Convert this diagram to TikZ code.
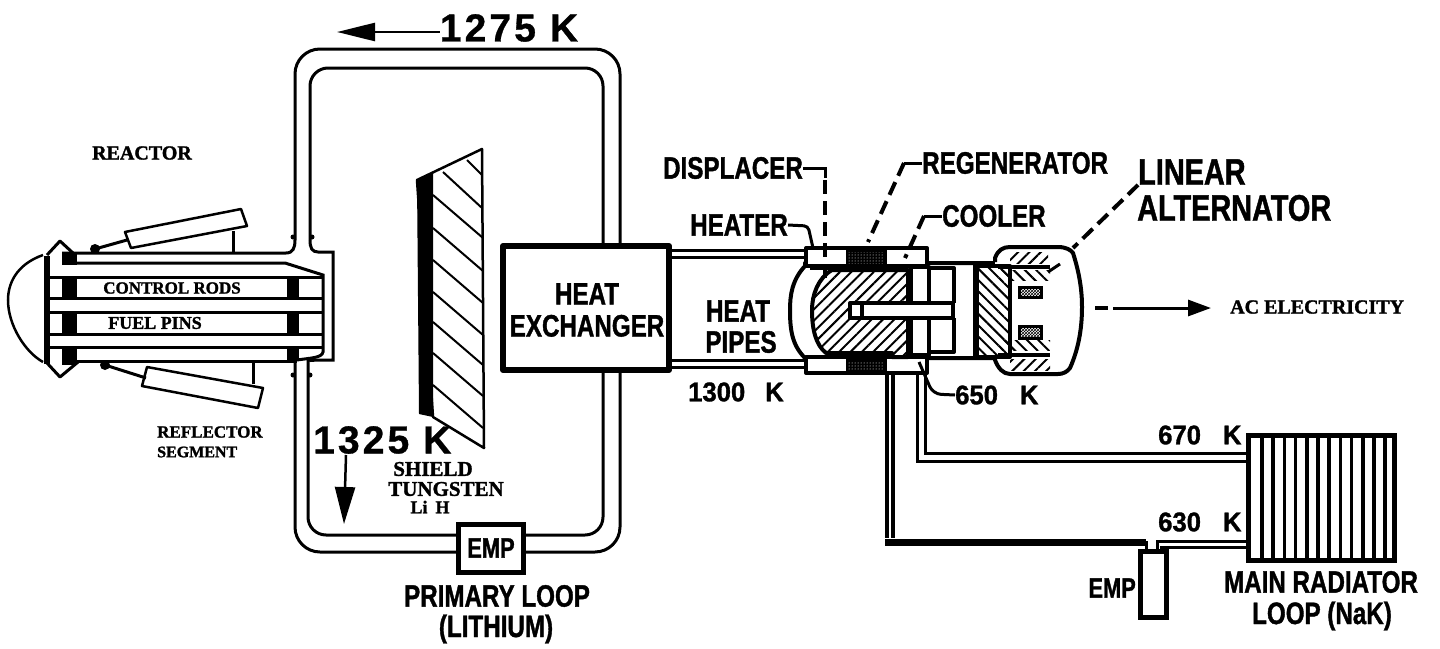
\documentclass[tikz,border=0pt]{standalone}
\usepackage{fontspec}
\setmainfont{Liberation Sans}
\newfontfamily\labelfont[FakeStretch=0.78,FakeBold=1.2]{Liberation Sans}
\newfontfamily\numfont[FakeStretch=0.95,FakeBold=1.2]{Liberation Sans}
\newfontfamily\widefont[LetterSpace=8,FakeBold=0.8]{Liberation Sans}
\newfontfamily\slabfont[FakeBold=1.5]{Liberation Serif}
\usetikzlibrary{arrows.meta,patterns,patterns.meta}
\tikzset{
	lbl/.style={inner sep=0pt, font=\labelfont\bfseries\fontsize{#1}{#1}\selectfont},
	lbl/.default=31,
	numlbl/.style={inner sep=0pt, font=\numfont\bfseries\fontsize{27}{27}\selectfont},
	bigtemp/.style={inner sep=0pt, font=\widefont\bfseries\fontsize{39}{39}\selectfont},
	slab/.style={inner sep=0pt, font=\slabfont\bfseries\fontsize{#1}{#1}\selectfont},
	slab/.default=20,
	pipe/.style={line width=3pt},
	wall/.style={line width=4pt, line join=round},
	leader/.style={line width=4pt, dash pattern=on 14pt off 7pt},
	hatchne/.style={pattern={Lines[angle=45,distance=8pt,line width=2pt]}},
	hatchnw/.style={pattern={Lines[angle=-45,distance=8pt,line width=2pt]}}
}

\begin{document}
\begin{tikzpicture}[x=1pt, y=-1pt]
		%%%%% START %%%%%
		\useasboundingbox (0, 0) rectangle (1440, 648);
		
		% primary loop
		\draw[pipe, rounded corners=25pt] (295, 240) -- (295, 49) -- (620, 49) -- (620, 552) -- (295, 552) -- (295, 358);
		\draw[pipe, rounded corners=18pt] (310, 240) -- (310, 68) -- (603, 68) -- (603, 535) -- (308, 535) -- (308, 358);
		\foreach \bx/\by in {293/237, 312/237, 293/375, 310/375} {
			\fill (\bx, \by) circle (2.5pt);
		}
		
		% reactor
		\draw[line width=2.5pt] (43, 255) .. controls (15, 265) and (8, 285) .. (8, 300) .. controls (8, 325) and (25, 352) .. (43, 362);
		\draw[line width=6pt] (47, 256) -- (47, 364);
		\draw[pipe, line join=round] (47, 255) -- (60, 241) -- (73, 253);
		\draw[pipe, line join=round] (47, 363) -- (60, 377) -- (78, 362);
		\draw[pipe] (62, 253) -- (286, 253) .. controls (293, 253) and (295, 248) .. (295, 240);
		\draw[pipe] (310, 240) .. controls (310, 248) and (312, 252) .. (318, 252) -- (333, 252) -- (333, 360) -- (318, 360) .. controls (312, 360) and (308, 362) .. (308, 358);
		\draw[pipe] (62, 263) -- (285, 263) -- (323, 275) -- (323, 352) .. controls (322, 358) and (310, 358) .. (297, 360);
		\draw[pipe] (50, 277) -- (323, 277);
		\draw[pipe] (50, 298) -- (323, 298);
		\draw[pipe] (50, 312) -- (323, 312);
		\draw[pipe] (50, 334) -- (323, 334);
		\draw[pipe] (50, 347) -- (323, 347);
		\draw[pipe] (62, 361) -- (297, 361);
		\foreach \ya/\yb in {277/298, 312/334} {
			\fill (62, \ya) rectangle (77, \yb);
			\fill (287, \ya) rectangle (299, \yb);
		}
		\fill (62, 253) rectangle (77, 265);
		\fill (62, 347) rectangle (77, 365);
		\fill (287, 347) rectangle (299, 361);
		
		% reflector segments
		\draw[line width=2.5pt, fill=white, line join=round] (125, 232) -- (241, 209) -- (247, 226) -- (131, 248) -- cycle;
		\draw[pipe] (95, 249) -- (127, 240);
		\fill (95, 249) circle (5pt);
		\draw[pipe] (233, 231) -- (233, 252);
		\draw[line width=2.5pt, fill=white, line join=round] (147, 367) -- (263, 388) -- (258, 408) -- (142, 386) -- cycle;
		\draw[pipe] (105, 365) -- (146, 378);
		\fill (105, 365) circle (5pt);
		\draw[pipe] (253, 361) -- (253, 384);
		
		\node[slab] (reactor) at (142, 153) {REACTOR};
		\node[slab=17] (controlrods) at (172, 288) {CONTROL RODS};
		\node[slab=18] (fuelpins) at (155, 323) {FUEL PINS};
		\node[slab=17, anchor=west] (reflector) at (157, 432) {REFLECTOR};
		\node[slab=16, anchor=west] (segment) at (157, 452) {SEGMENT};
		
		% shield
		\draw[line width=2.5pt, fill=white, line join=round] (417, 180) -- (482, 149) -- (484, 448) -- (433, 417) -- cycle;
		\fill (417, 180) -- (433, 172) -- (433, 417) -- (419, 414) -- cycle;
		\foreach \y in {195, 228, 260, 292, 322, 353, 385} {
			\draw[line width=2pt] (433, \y) -- (483, \y + 43);
		}
		\draw[line width=2pt] (443, 172) -- (482, 208);
		\draw[line width=2pt] (467, 160) -- (482, 175);
		
		% heat exchanger and loop pump
		\node[draw, wall, line width=6pt, fill=white, minimum width=166pt, minimum height=124pt, inner sep=0pt] (exchanger) at (586, 308) {};
		\node[lbl, align=center, font=\labelfont\bfseries\fontsize{31}{32}\selectfont] (exchangertext) at (587, 310) {HEAT\\EXCHANGER};
		\node[draw, line width=5pt, fill=white, minimum width=65pt, minimum height=48pt, inner sep=0pt, lbl=28] (pumpa) at (491, 548) {EMP};
		\node[lbl] (primary) at (497, 596) {PRIMARY LOOP};
		\node[lbl] (lithium) at (496, 629) {(LITHIUM)};
		
		% temperature labels on the loop
		\node[bigtemp] (hot) at (509, 28) {1275 K};
		\coordinate (hotend) at (337, 32);
		\draw[-{Triangle[length=38pt, width=18pt]}, line width=2.5pt] (hot.west |- hotend) -- (hotend);
		\node[bigtemp, anchor=west] (cold) at (313, 440) {1325 K};
		\coordinate (coldstart) at (346, 455);
		\coordinate (coldend) at (344, 524);
		\draw[-{Triangle[length=37pt, width=20pt]}, line width=2.5pt] (coldstart) -- (coldend);
		\node[slab=21] (shieldname) at (433, 469) {SHIELD};
		\node[slab=21] (tungsten) at (446, 489) {TUNGSTEN};
		\node[slab=18] (lih) at (430, 507) {Li\hspace{8pt}H};
		
		% heat pipes
		\draw[pipe] (672, 250) -- (812, 250);
		\draw[pipe] (672, 257) -- (812, 257);
		\draw[pipe] (672, 360) -- (812, 360);
		\draw[pipe] (672, 367) -- (812, 367);
		\node[lbl] (heatword) at (738, 311) {HEAT};
		\node[lbl] (pipesword) at (741, 342) {PIPES};
		\node[numlbl, anchor=west] (hxtemp) at (688, 392) {1300\hspace{20pt}K};
		
		% radiator pipes
		\draw[line width=4pt] (887, 371) -- (887, 538);
		\draw[line width=4pt] (893, 371) -- (893, 538);
		\draw[line width=7pt] (885, 542) -- (1146, 542);
		\draw[pipe] (1146, 541) -- (1146, 552);
		\draw[pipe] (917, 371) -- (917, 461) -- (1248, 461);
		\draw[pipe] (925, 371) -- (925, 453) -- (1248, 453);
		\draw[pipe] (1157, 552) -- (1157, 541) -- (1248, 541);
		\draw[pipe] (1161, 552) -- (1161, 547) -- (1248, 547);
		
		% engine housing
		\draw[wall, fill=white] (805, 266) .. controls (792, 280) and (790, 295) .. (790, 310) .. controls (790, 330) and (792, 345) .. (805, 358) -- (928, 358) -- (997, 358) -- (997, 263) -- (805, 263) -- cycle;
		\draw[wall, fill=white] (806, 248) rectangle (927, 266);
		\draw[wall, fill=white] (806, 357) rectangle (927, 373);
		\foreach \ya/\yb in {249/265, 358/372} {
			\fill (846, \ya) rectangle (887, \yb);
			\fill[pattern=dots, pattern color=white] (848, \ya + 3) rectangle (884, \yb - 2);
		}
		
		% displacer
		\draw[pipe] (810, 268) -- (890, 268);
		\draw[wall, hatchne] (908, 270) -- (832, 270) .. controls (818, 278) and (812, 295) .. (812, 310) .. controls (812, 330) and (816, 345) .. (826, 353) -- (892, 353) -- (892, 357) -- (908, 357) -- cycle;
		\draw[wall, fill=white] (850, 303) rectangle (953, 318);
		\draw[wall] (862, 303) -- (862, 318);
		
		% columns between displacer and piston
		\draw[wall, fill=white] (911, 267) rectangle (929, 303);
		\draw[wall, fill=white] (911, 318) rectangle (929, 355);
		\draw[wall] (929, 268) -- (954, 268) -- (954, 303);
		\draw[wall] (929, 352) -- (954, 352) -- (954, 318);
		\draw[wall] (975, 264) -- (975, 357);
		
		% power piston and alternator
		\draw[wall, fill=white] (995, 262) -- (995, 258) .. controls (998, 250) and (1003, 247) .. (1010, 247) -- (1058, 247) .. controls (1066, 247) and (1071, 250) .. (1073, 253) .. controls (1080, 275) and (1082, 292) .. (1082, 307) .. controls (1082, 330) and (1078, 350) .. (1070, 368) .. controls (1067, 372) and (1063, 374) .. (1058, 374) -- (1010, 374) .. controls (1003, 374) and (998, 368) .. (995, 360) -- (995, 356);
		\draw[wall, hatchnw] (977, 266) rectangle (1010, 357);
		\fill[hatchne] (1010, 252) rectangle (1048, 263);
		\fill[hatchne] (1010, 359) rectangle (1050, 370);
		\fill[hatchnw] (1000, 270) rectangle (1050, 280);
		\fill[hatchnw] (1000, 340) rectangle (1050, 350);
		\draw[wall] (998, 267) -- (1050, 267);
		\draw[wall] (998, 355) -- (1050, 355);
		\draw[pipe] (1048, 272) -- (1060, 264);
		\draw[line width=3pt, pattern=crosshatch] (1019, 287) rectangle (1041, 297);
		\draw[line width=3pt, pattern=crosshatch] (1019, 326) rectangle (1041, 338);
		
		% engine labels
		\node[lbl] (displacer) at (733, 168) {DISPLACER};
		\coordinate (displacerend) at (825, 283);
		\coordinate (displacerknee) at (825, 168);
		\draw[pipe] (displacer.east) -- (displacerknee) -- ++(0, 10);
		\draw[leader] (825, 180) -- (displacerend);
		\node[lbl, anchor=west] (heater) at (690, 225) {HEATER};
		\coordinate (heaterend) at (813, 248);
		\draw[pipe, rounded corners=4pt] (heater.east) -- (808, 226) -- (heaterend);
		\node[lbl, anchor=west] (regenerator) at (922, 163) {REGENERATOR};
		\coordinate (regenend) at (868, 242);
		\coordinate (regenknee) at (904, 163);
		\draw[pipe] (regenerator.west) -- (regenknee);
		\draw[leader] (regenknee) -- (regenend);
		\node[lbl, anchor=west] (cooler) at (942, 216) {COOLER};
		\coordinate (coolerend) at (905, 258);
		\coordinate (coolerknee) at (924, 216);
		\draw[pipe] (cooler.west) -- (coolerknee);
		\draw[leader] (coolerknee) -- (coolerend);
		\node[lbl=37, anchor=west] (linear) at (1138, 172) {LINEAR};
		\node[lbl=37, anchor=west] (alternator) at (1137, 208) {ALTERNATOR};
		\coordinate (linearend) at (1073, 248);
		\draw[leader] (linear.south west) -- (linearend);
		\node[numlbl, anchor=west] (enginetemp) at (955, 395) {650\hspace{22pt}K};
		\coordinate (enginestart) at (919, 362);
		\draw[pipe, rounded corners=8pt] (enginestart) -- (933, 394) -- (enginetemp.west);
		
		% electricity output
		\node[slab, anchor=west] (electricity) at (1230, 307) {AC ELECTRICITY};
		\coordinate (acstart) at (1095, 308);
		\coordinate (acgap) at (1108, 308);
		\coordinate (acline) at (1113, 308);
		\coordinate (acend) at (1211, 308);
		\draw[line width=4pt] (acstart) -- (acgap);
		\draw[-{Triangle[length=23pt, width=16pt]}, line width=3pt] (acline) -- (acend);
		
		% radiator
		\node[draw, line width=5pt, fill=white, minimum width=146pt, minimum height=125pt, inner sep=0pt] (radiator) at (1321, 498) {};
		\foreach \i in {0, ..., 11} {
			\draw[line width=3.5pt] (1262 + 11.2 * \i, 436) -- (1262 + 11.2 * \i, 561);
		}
		\node[numlbl, anchor=west] (tempin) at (1158, 435) {670\hspace{22pt}K};
		\node[numlbl, anchor=west] (tempout) at (1158, 522) {630\hspace{22pt}K};
		\node[lbl] (mainradiator) at (1321, 582) {MAIN RADIATOR};
		\node[lbl] (nak) at (1322, 616) {LOOP (NaK)};
		
		% radiator pump
		\node[draw, line width=5pt, fill=white, minimum width=26pt, minimum height=66pt, inner sep=0pt] (pumpb) at (1153, 584) {};
		\node[lbl=28, anchor=east] (pumpbtext) at (1136, 588) {EMP};
		
		%%%%% END %%%%%
	\end{tikzpicture}
\end{document}
